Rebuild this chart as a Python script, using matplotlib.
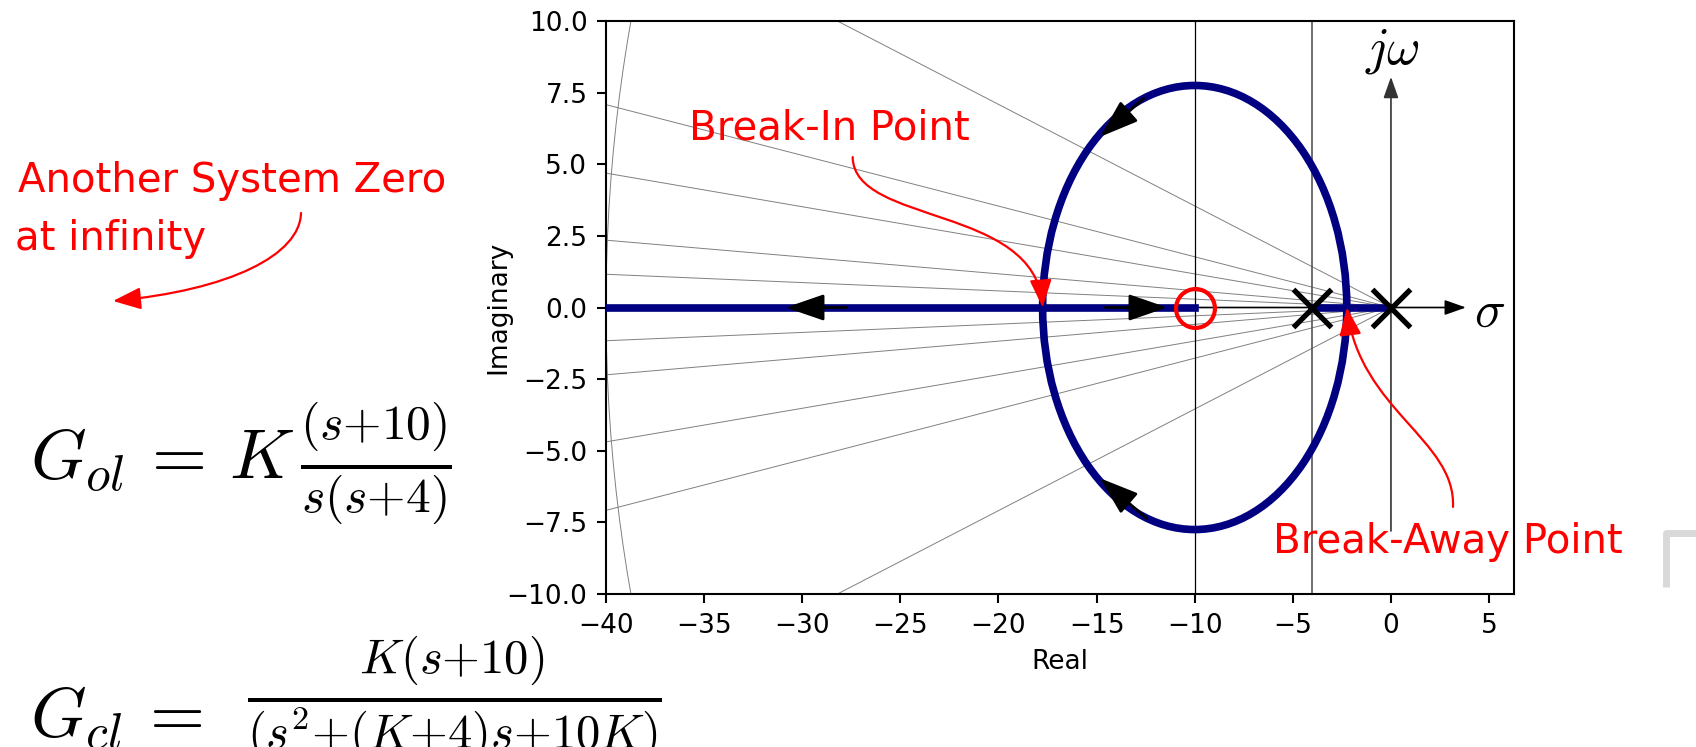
import matplotlib
matplotlib.use("Agg")
import matplotlib.pyplot as plt
from matplotlib.patches import Circle, FancyArrowPatch
from matplotlib.path import Path

W, H = 1696, 747

# open loop poles and zero
poles = [0.0, -4.0]
zeros = [-10.0]

# root locus
left_branch = [-40.0, -10.0]
right_branch = [-4.0, 0.0]
loop_center = -10.0
loop_radius = 7.75
break_in = -17.75
break_away = -2.25

# grid: rays from the origin (y where they meet x = -40) and the wn circle
ray_y_at_left = [14.18, 7.08, 4.69, 2.35, 1.16]
ray_x_end = -40.0
wn_radius = 40.0

# direction arrows drawn on the locus: (tail, tip)
locus_arrows = [
    ((-27.74, 0.0), (-30.84, 0.0)),
    ((-14.55, 0.0), (-11.40, 0.0)),
    ((-12.60, 7.30), (-14.81, 5.96)),
    ((-12.45, -7.36), (-14.82, -5.96)),
]

# extra reference lines
vlines = [(-10.0, "black", 0.9), (-4.0, "#555555", 1.2)]
jw_axis = (-7.8, 8.05)
sigma_axis = (-10.0, 3.82)

xticks = [-40, -35, -30, -25, -20, -15, -10, -5, 0, 5]
yticks = [-10.0, -7.5, -5.0, -2.5, 0.0, 2.5, 5.0, 7.5, 10.0]

plt.rcParams.update({
    "font.size": 19,
    "axes.linewidth": 1.5,
    "xtick.major.size": 6.7, "ytick.major.size": 6.7,
    "xtick.major.width": 1.5, "ytick.major.width": 1.5,
    "xtick.major.pad": 6.7, "ytick.major.pad": 6.7,
    "axes.labelpad": 7.6,
})

fig = plt.figure(figsize=(W / 100, H / 100), dpi=100)
ax = fig.add_axes([606 / W, 1 - 594 / H, (1514 - 606) / W, (594 - 21) / H])
ax.set_xlim(-40, 6.27)
ax.set_ylim(-10, 10)
ax.set_xticks(xticks)
ax.set_yticks(yticks)
ax.set_xlabel("Real")
ax.set_ylabel("Imaginary", labelpad=-3.5)

# grid lines
for yl in ray_y_at_left:
    ax.plot([0, ray_x_end], [0, yl], color="gray", lw=0.7, zorder=1)
    ax.plot([0, ray_x_end], [0, -yl], color="gray", lw=0.7, zorder=1)
ax.add_patch(Circle((0, 0), wn_radius, fill=False, ec="gray", lw=0.7, zorder=1))
for xv, c, lw in vlines:
    ax.axvline(xv, color=c, lw=lw, zorder=1.5)

# sigma / j omega axes
ax.annotate("", xy=(sigma_axis[1], 0), xytext=(sigma_axis[0], 0),
            arrowprops=dict(arrowstyle="-|>,head_length=0.65,head_width=0.23",
                            color="black", lw=1.2, mutation_scale=20,
                            shrinkA=0, shrinkB=0), zorder=2)
ax.annotate("", xy=(0, jw_axis[1]), xytext=(0, jw_axis[0]),
            arrowprops=dict(arrowstyle="-|>,head_length=0.65,head_width=0.23",
                            color="#333333", lw=1.2, mutation_scale=20,
                            shrinkA=0, shrinkB=0), zorder=2)
ax.text(5.05, 0, r"$\sigma$", fontsize=37, math_fontfamily="cm",
        ha="center", va="center_baseline")
ax.text(0.1, 8.95, r"$j\omega$", fontsize=37, math_fontfamily="cm",
        ha="center", va="center")

# the locus
ax.plot(left_branch, [0, 0], color="navy", lw=5.5, zorder=3)
ax.plot(right_branch, [0, 0], color="navy", lw=5.5, zorder=3)
ax.add_patch(Circle((loop_center, 0), loop_radius, fill=False, ec="navy",
                    lw=5.5, zorder=3))
for tail, tip in locus_arrows:
    ax.annotate("", xy=tip, xytext=tail,
                arrowprops=dict(arrowstyle="-|>,head_length=1.19,head_width=0.41",
                                color="black", lw=2, mutation_scale=20,
                                shrinkA=0, shrinkB=0), zorder=4)

ax.plot(poles, [0] * len(poles), "x", color="black", ms=27, mew=3.8, zorder=5)
ax.plot(zeros, [0] * len(zeros), "o", mfc="none", mec="red", ms=28, mew=3,
        zorder=5)

red_head = "-|>,head_length=0.86,head_width=0.34"

# break-in / break-away callouts (data coords)
bi_path = Path([(-27.43, 5.25), (-27.38, 2.88), (-18.12, 3.58), (break_in, 0.0)],
               [Path.MOVETO, Path.CURVE4, Path.CURVE4, Path.CURVE4])
ax.add_patch(FancyArrowPatch(path=bi_path, arrowstyle=red_head, mutation_scale=20,
                             color="red", lw=1.6, zorder=6, clip_on=False))
ba_path = Path([(3.16, -6.96), (3.31, -4.62), (-1.58, -3.58), (break_away, 0.0)],
               [Path.MOVETO, Path.CURVE4, Path.CURVE4, Path.CURVE4])
ax.add_patch(FancyArrowPatch(path=ba_path, arrowstyle=red_head, mutation_scale=20,
                             color="red", lw=1.6, zorder=6, clip_on=False))


def fx(px):
    return px / W


def fy(py):
    return 1 - py / H


red_font = dict(color="red", fontsize=29, family="DejaVu Sans", va="baseline",
                ha="left")
fig.text(fx(689), fy(140), "Break-In Point", zorder=7, **red_font)
fig.text(fx(1273), fy(553), "Break-Away Point", zorder=7, **red_font)
fig.text(fx(18), fy(192), "Another System Zero", **red_font)
fig.text(fx(15), fy(250), "at infinity", **red_font)

inf_path = Path([(fx(301), fy(213)), (fx(300), fy(255)), (fx(230), fy(290)),
                 (fx(113), fy(301))],
                [Path.MOVETO, Path.CURVE4, Path.CURVE4, Path.CURVE4])
fig.patches.append(FancyArrowPatch(path=inf_path, arrowstyle=red_head,
                                   mutation_scale=20, color="red", lw=1.6,
                                   transform=fig.transFigure, figure=fig))

# transfer functions
fig.text(fx(30), fy(478), r"$G_{ol}\,=\,K\,\frac{(s{+}10)}{s(s{+}4)}$",
         fontsize=51, math_fontfamily="cm", va="baseline", ha="left")
fig.text(fx(30), fy(737), r"$G_{cl}\,=$", fontsize=51,
         math_fontfamily="cm", va="baseline", ha="left")
fig.text(fx(247), fy(712), r"$\frac{K(s{+}10)}{(s^2{+}(K{+}4)s{+}10K)}$",
         fontsize=50, math_fontfamily="cm", va="baseline", ha="left")

# light grey corner mark at the right edge
fig.lines.append(plt.Line2D([fx(1666), fx(1666), fx(1696)],
                            [fy(587), fy(533), fy(533)], color="#d9d9d9",
                            lw=5, solid_capstyle="butt", transform=fig.transFigure,
                            figure=fig))

fig.savefig("out.png", dpi=100)
